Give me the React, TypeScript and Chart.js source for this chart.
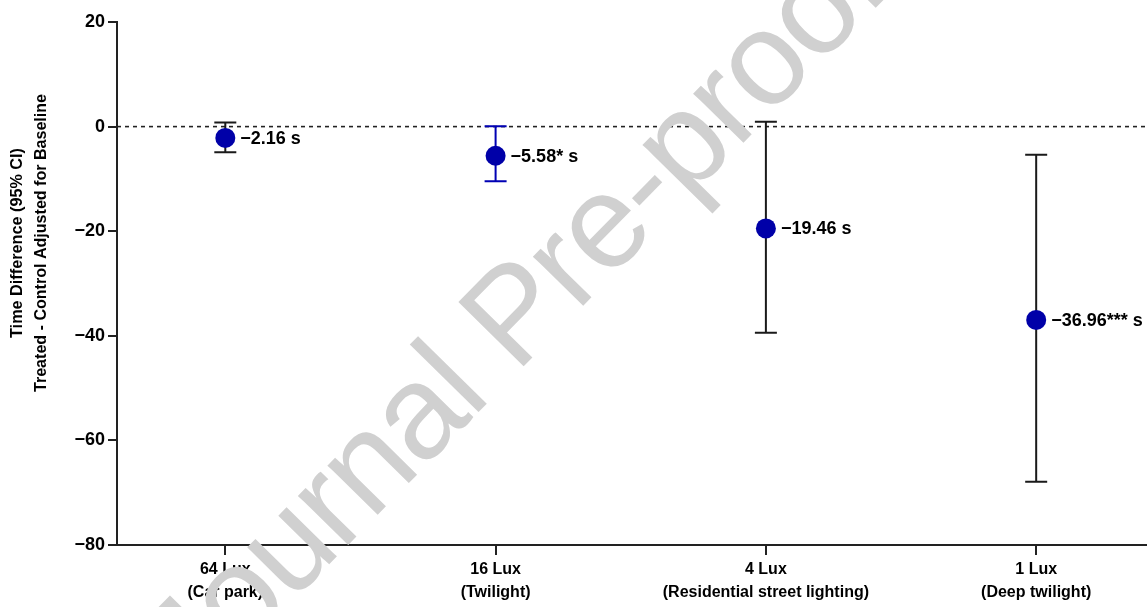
import React, { useEffect, useRef } from 'react';
import { Chart, registerables } from 'chart.js';

Chart.register(...registerables);

const FONT = '"Liberation Sans", Arial, Helvetica, sans-serif';

// ---- data ----
const categoryLines: string[][] = [
  ['64 Lux', '(Car park)'],
  ['16 Lux', '(Twilight)'],
  ['4 Lux', '(Residential street lighting)'],
  ['1 Lux', '(Deep twilight)'],
];
const xPositions = [1, 2, 3, 4];
const meanDiff = [-2.16, -5.58, -19.46, -36.96];
const ciLower = [-4.9, -10.45, -39.4, -67.9];
const ciUpper = [0.8, 0.05, 0.95, -5.4];
const pointLabels = ['\u22122.16 s', '\u22125.58* s', '\u221219.46 s', '\u221236.96*** s'];
const errorBarColors = ['#1a1a1a', '#0000b4', '#1a1a1a', '#1a1a1a'];
const yTicks = [20, 0, -20, -40, -60, -80];
const yTitleLines = ['Time Difference (95% CI)', 'Treated - Control Adjusted for Baseline'];
const watermark = 'Journal Pre-proof';

const POINT_COLOR = '#0000a8';

const overlayPlugin = {
  id: 'overlay',
  beforeDatasetsDraw(chart: any) {
    const { ctx, chartArea, scales } = chart;
    const x = scales.x;
    const y = scales.y;
    ctx.save();
    // zero dashed line
    const y0 = y.getPixelForValue(0);
    ctx.strokeStyle = '#222';
    ctx.lineWidth = 1.6;
    ctx.setLineDash([4, 4]);
    ctx.beginPath();
    ctx.moveTo(chartArea.left, y0);
    ctx.lineTo(chartArea.right, y0);
    ctx.stroke();
    ctx.setLineDash([]);
    // error bars
    const cap = 11;
    xPositions.forEach((xv, i) => {
      const px = x.getPixelForValue(xv);
      const pTop = y.getPixelForValue(ciUpper[i]);
      const pBot = y.getPixelForValue(ciLower[i]);
      ctx.strokeStyle = errorBarColors[i];
      ctx.lineWidth = 2;
      ctx.beginPath();
      ctx.moveTo(px, pTop);
      ctx.lineTo(px, pBot);
      ctx.moveTo(px - cap, pTop);
      ctx.lineTo(px + cap, pTop);
      ctx.moveTo(px - cap, pBot);
      ctx.lineTo(px + cap, pBot);
      ctx.stroke();
    });
    ctx.restore();
  },
  afterDatasetsDraw(chart: any) {
    const { ctx, scales } = chart;
    ctx.save();
    ctx.font = `bold 18px ${FONT}`;
    ctx.fillStyle = '#000';
    ctx.textAlign = 'left';
    ctx.textBaseline = 'middle';
    xPositions.forEach((xv, i) => {
      const px = scales.x.getPixelForValue(xv);
      const py = scales.y.getPixelForValue(meanDiff[i]);
      ctx.fillText(pointLabels[i], px + 15, py + 1);
    });
    ctx.restore();
  },
  afterDraw(chart: any) {
    const { ctx } = chart;
    ctx.save();
    // y axis title (two lines)
    const cy = 243;
    const centers = [18, 42];
    const targets = [190, 298];
    ctx.fillStyle = '#000';
    ctx.textAlign = 'center';
    ctx.textBaseline = 'middle';
    ctx.font = `bold 16px ${FONT}`;
    yTitleLines.forEach((t, i) => {
      const w = ctx.measureText(t).width;
      const sx = targets[i] / w;
      ctx.save();
      ctx.translate(centers[i], cy);
      ctx.rotate(-Math.PI / 2);
      ctx.scale(sx, 1);
      ctx.fillText(t, 0, 0);
      ctx.restore();
    });
    // watermark
    ctx.font = `133px ${FONT}`;
    (ctx as any).letterSpacing = '-2px';
    ctx.fillStyle = '#d0d0d0';
    ctx.textAlign = 'left';
    ctx.textBaseline = 'alphabetic';
    const wJ = ctx.measureText('Journal ').width;
    ctx.translate(516, 374);
    ctx.rotate((-45.5 * Math.PI) / 180);
    ctx.fillText(watermark, -wJ, 0);
    (ctx as any).letterSpacing = '0px';
    ctx.restore();
  },
};

export default function App() {
  const ref = useRef<HTMLCanvasElement | null>(null);
  useEffect(() => {
    document.body.style.margin = '0';
    if (!ref.current) return;
    const chart = new Chart(ref.current, {
      type: 'scatter',
      data: {
        datasets: [
          {
            data: xPositions.map((xv, i) => ({ x: xv, y: meanDiff[i] })),
            backgroundColor: POINT_COLOR,
            borderColor: POINT_COLOR,
            pointRadius: 10,
            pointBorderWidth: 0,
            showLine: false,
          },
        ],
      },
      options: {
        responsive: false,
        animation: false,
        layout: { autoPadding: false, padding: { top: 22, left: 0, right: 0, bottom: 0 } },
        plugins: { legend: { display: false }, tooltip: { enabled: false } },
        scales: {
          x: {
            type: 'linear',
            min: 0.5993,
            max: 4.41,
            afterBuildTicks: (s: any) => {
              s.ticks = xPositions.map((v) => ({ value: v }));
            },
            afterFit: (s: any) => {
              s.height = 62;
              s.paddingLeft = 0;
              s.paddingRight = 0;
            },
            ticks: {
              autoSkip: false,
              maxRotation: 0,
              minRotation: 0,
              padding: 3,
              color: '#000',
              font: { family: FONT, size: 16, weight: 'bold', lineHeight: 1.45 },
              callback: (v: any) => {
                const idx = xPositions.indexOf(Math.round(Number(v)));
                return idx >= 0 ? categoryLines[idx] : '';
              },
            },
            grid: {
              drawOnChartArea: false,
              drawTicks: true,
              tickLength: 10,
              tickColor: '#222',
              tickWidth: 2,
              color: '#222',
              lineWidth: 2,
            },
            border: { color: '#222', width: 2 },
          },
          y: {
            type: 'linear',
            min: -80,
            max: 20,
            afterBuildTicks: (s: any) => {
              s.ticks = yTicks.map((v) => ({ value: v }));
            },
            afterFit: (s: any) => {
              s.width = 117;
            },
            ticks: {
              padding: 3,
              color: '#000',
              font: { family: FONT, size: 18, weight: 'bold' },
              callback: (v: any) => (Number(v) < 0 ? '\u2212' + Math.abs(Number(v)) : String(v)),
            },
            grid: {
              drawOnChartArea: false,
              drawTicks: true,
              tickLength: 9,
              tickColor: '#222',
              tickWidth: 2,
              color: '#222',
              lineWidth: 2,
            },
            border: { color: '#222', width: 2 },
          },
        },
      } as any,
      plugins: [overlayPlugin],
    });
    return () => chart.destroy();
  }, []);
  return (
    <div style={{ width: 1147, height: 607, background: '#fff' }}>
      <canvas ref={ref} width={1147} height={607} style={{ display: 'block' }} />
    </div>
  );
}
